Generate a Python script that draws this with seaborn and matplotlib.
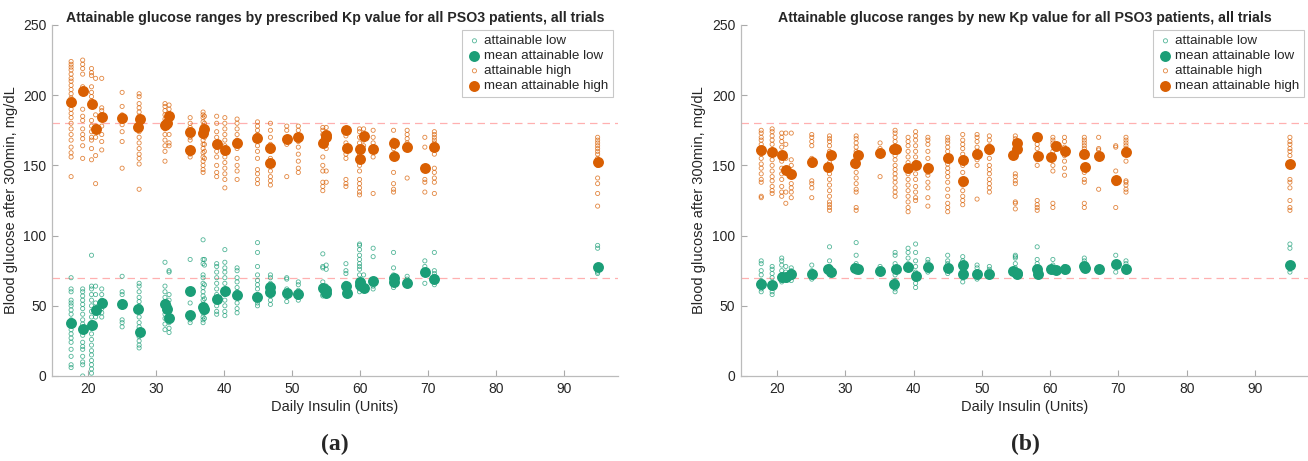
import numpy as np
import pandas as pd
import seaborn as sns
import matplotlib
matplotlib.use("Agg")
import matplotlib.pyplot as plt

GREEN = "#1b9e77"
ORANGE = "#d95f02"

# ---- panel (a): prescribed Kp ----
a_mean_x = [17.5, 19.2, 20.5, 21.1, 22.0, 25.0, 27.4, 27.6, 31.3, 31.6, 31.9,
            35.0, 35.0, 36.9, 37.1, 38.9, 40.1, 41.9, 44.9, 46.8, 46.8, 49.2,
            50.9, 54.5, 54.9, 55.0, 57.9, 58.0, 59.9, 59.9, 60.5, 61.9, 64.9,
            64.9, 66.9, 69.5, 70.9, 94.9]
a_mean_high = [194.8, 202.8, 193.4, 176.0, 184.3, 183.9, 177.5, 182.9, 179.1,
               180.5, 185.5, 174.1, 161.3, 173.4, 176.0, 165.1, 161.3, 165.6,
               169.4, 162.7, 151.6, 168.9, 170.3, 165.6, 170.3, 171.5, 175.1,
               162.7, 162.0, 154.7, 170.8, 161.8, 165.6, 157.0, 163.2, 147.8,
               163.2, 152.1]
a_mean_low = [38.0, 33.7, 36.3, 47.0, 52.2, 51.0, 47.7, 31.1, 51.0, 47.4, 41.0,
              60.7, 43.2, 49.3, 47.9, 54.6, 60.3, 57.4, 56.5, 63.6, 59.5, 58.8,
              58.4, 62.4, 59.3, 61.2, 64.0, 58.8, 67.1, 65.0, 62.4, 67.9, 70.0,
              67.1, 66.0, 73.8, 69.0, 77.3]

a_col_x = [17.5, 19.2, 20.5, 21.1, 22.0, 25.0, 27.5, 31.3, 31.9, 35.0, 36.9,
           37.1, 38.9, 40.1, 41.9, 44.9, 46.8, 49.2, 50.9, 54.5, 55.0, 57.9,
           59.9, 60.5, 61.9, 64.9, 66.9, 69.5, 70.9, 94.9]
a_high = [
    [224, 222, 220, 218, 215, 212, 210, 207, 204, 201, 198, 194, 190, 187, 184,
     180, 176, 172, 168, 163, 159, 156, 142],
    [225, 222, 219, 215, 206, 203, 190, 185, 182, 176, 172, 169, 164, 155],
    [219, 216, 214, 206, 202, 199, 196, 192, 182, 178, 174, 170, 168, 162, 154],
    [212, 186, 178, 170, 157, 137],
    [212, 191, 189, 183, 178, 172, 167, 161],
    [202, 192, 186, 179, 174, 167, 148],
    [201, 199, 194, 191, 188, 185, 182, 178, 174, 170, 166, 162, 158, 155,
     151, 133],
    [194, 192, 189, 186, 183, 180, 176, 172, 168, 164, 160, 153],
    [193, 190, 187, 182, 178, 172, 166, 164],
    [184, 180, 177, 170, 168, 158, 156],
    [188, 186, 184, 181, 178, 176, 174, 171, 168, 165, 162, 159, 156, 153,
     150, 147, 145],
    [185, 180, 175, 170, 165, 160, 155],
    [185, 180, 174, 170, 165, 160, 156, 150, 145, 142],
    [184, 180, 176, 172, 168, 164, 160, 156, 152, 148, 144, 140, 134],
    [183, 180, 176, 172, 168, 162, 155, 150, 146, 140],
    [181, 178, 175, 172, 168, 164, 160, 155, 147, 144, 140, 137],
    [180, 175, 170, 165, 160, 155, 150, 146, 142, 139, 136],
    [178, 175, 167, 165, 142],
    [178, 175, 171, 167, 163, 158, 153, 148, 145],
    [177, 175, 172, 168, 156, 150, 146, 138, 135, 132],
    [177, 173, 170, 166, 162, 146, 138],
    [175, 171, 166, 163, 158, 155, 140, 137, 135],
    [176, 174, 170, 166, 162, 158, 154, 150, 146, 140, 137, 134, 131, 129],
    [176, 172, 168, 164],
    [175, 170, 166, 156, 130],
    [175, 168, 162, 156, 145, 137, 133, 131],
    [175, 172, 169, 166, 141],
    [170, 163, 148, 140, 138, 131],
    [174, 172, 170, 168, 166, 162, 158, 148, 145, 141, 138, 130],
    [170, 168, 166, 164, 162, 160, 158, 155, 150, 141, 137, 130, 121],
]
a_low = [
    [70, 62, 60, 54, 52, 50, 47, 44, 40, 36, 33, 30, 27, 24, 19, 14, 8, 6],
    [62, 60, 57, 54, 51, 48, 44, 40, 37, 33, 29, 24, 21, 19, 14, 10, 8, 0],
    [86, 64, 62, 58, 54, 50, 46, 42, 38, 34, 30, 26, 22, 18, 15, 11, 8, 5, 2],
    [64, 58, 52, 46, 42],
    [62, 58, 54, 48, 45, 42],
    [71, 60, 58, 53, 49, 40, 38, 35],
    [66, 64, 60, 56, 53, 50, 46, 42, 38, 35, 32, 28, 25, 22, 20],
    [81, 64, 60, 56, 53, 50, 47, 44, 41, 37, 33],
    [75, 74, 58, 54, 50, 46, 42, 38, 34, 31],
    [83, 61, 59, 52, 44, 40, 38],
    [97, 83, 80, 72, 70, 66, 63, 60, 57, 54, 51, 48, 45, 42, 40, 38],
    [83, 79, 65, 55, 50, 45, 41],
    [80, 78, 74, 70, 66, 62, 58, 54, 50, 46, 44],
    [90, 81, 77, 74, 70, 66, 62, 58, 54, 50, 46, 43],
    [77, 75, 70, 67, 63, 60, 56, 52, 48, 45],
    [95, 88, 78, 72, 68, 65, 62, 58, 55, 52, 50],
    [72, 70, 66, 63, 60, 57, 54, 51],
    [70, 69, 62, 56, 53],
    [67, 65, 61, 58, 56, 54],
    [87, 78, 77, 67, 64, 62, 60, 58, 57],
    [79, 76, 64, 62, 60, 58],
    [80, 75, 73, 66, 62, 60, 58],
    [94, 93, 90, 86, 83, 80, 78, 76, 72, 68, 64, 62, 60],
    [72, 66, 63, 61],
    [91, 85, 68, 66, 64, 62],
    [88, 77, 72, 70, 67, 65, 63],
    [71, 69, 66],
    [82, 78, 66],
    [88, 75, 73, 71, 69, 67, 65],
    [93, 91, 76, 74, 73],
]

# ---- panel (b): new Kp ----
b_mean_x = [17.7, 19.3, 20.7, 21.3, 22.1, 25.1, 27.5, 27.9, 31.5, 31.8, 35.1,
            37.1, 37.5, 39.2, 40.3, 42.1, 45.0, 47.2, 47.2, 49.3, 51.1, 54.6,
            55.1, 55.2, 58.1, 58.2, 60.1, 60.8, 62.1, 65.0, 65.1, 67.1, 69.6,
            71.1, 95.1]
b_mean_high = [161.1, 159.7, 157.1, 146.5, 144.2, 152.2, 148.9, 157.1, 151.9,
               157.1, 158.8, 161.8, 161.8, 148.2, 150.1, 148.2, 155.2, 153.6,
               138.8, 158.3, 161.8, 157.1, 161.8, 165.8, 170.1, 156.4, 155.9,
               163.7, 160.4, 158.3, 148.9, 156.4, 139.9, 159.5, 151.2]
b_mean_low = [65.3, 64.8, 70.7, 70.7, 72.8, 72.3, 76.3, 74.0, 77.0, 76.3, 75.1,
              65.3, 75.9, 77.7, 71.1, 77.5, 76.8, 78.9, 72.8, 72.3, 72.3, 75.1,
              72.8, 73.5, 76.3, 72.8, 76.3, 75.4, 75.9, 78.2, 77.0, 75.9, 80.1,
              75.9, 78.7]

b_col_x = [17.7, 19.3, 20.7, 21.3, 22.1, 25.1, 27.7, 31.6, 35.1, 37.3, 39.2,
           40.3, 42.1, 45.0, 47.2, 49.3, 51.1, 54.9, 58.1, 60.4, 62.1, 65.0,
           67.1, 69.6, 71.1, 95.1]
b_high = [
    [175, 173, 170, 168, 165, 162, 158, 155, 151, 148, 144, 140, 138, 128, 127],
    [176, 174, 171, 168, 165, 161, 158, 154, 150, 146, 142, 139, 135, 132, 130],
    [173, 170, 167, 163, 158, 153, 148, 144, 140, 135, 131, 128],
    [173, 165, 155, 147, 131, 123],
    [173, 154, 150, 142, 137, 134, 131, 127],
    [172, 170, 167, 164, 155, 150, 139, 137, 134, 127],
    [171, 169, 167, 164, 160, 156, 152, 148, 144, 140, 136, 132, 128, 124,
     122, 120, 118],
    [171, 169, 166, 163, 160, 156, 153, 149, 145, 141, 137, 133, 131, 120, 118],
    [166, 162, 158, 142],
    [175, 173, 170, 167, 164, 160, 157, 154, 150, 147, 144, 141, 138, 134,
     131, 128],
    [170, 167, 164, 160, 156, 152, 148, 144, 140, 136, 132, 128, 124, 120, 117],
    [174, 171, 168, 164, 160, 156, 152, 148, 144, 140, 135, 131, 127, 125],
    [170, 168, 165, 160, 155, 150, 145, 143, 138, 134, 127, 121],
    [170, 168, 166, 163, 160, 157, 154, 151, 148, 145, 142, 138, 133, 128,
     123, 120, 117],
    [172, 168, 165, 162, 158, 155, 150, 145, 140, 136, 132, 128, 125, 122],
    [172, 170, 167, 163, 160, 154, 150, 126],
    [171, 168, 164, 159, 155, 150, 147, 144, 140, 137, 134, 131],
    [171, 169, 167, 165, 162, 160, 156, 144, 142, 139, 137, 124, 123, 119],
    [171, 168, 165, 162, 158, 154, 150, 125, 122, 120, 118],
    [170, 168, 166, 164, 160, 156, 150, 146, 123, 120],
    [170, 167, 163, 157, 153, 148, 143],
    [170, 168, 166, 164, 162, 160, 145, 140, 138, 123, 120],
    [170, 162, 161, 133],
    [164, 163, 146, 140, 137, 120],
    [170, 168, 166, 164, 162, 158, 153, 139, 138, 136, 133, 131],
    [170, 167, 165, 162, 160, 157, 150, 140, 138, 134, 125, 120, 118],
]
b_low = [
    [82, 80, 75, 72, 68, 64, 62, 60],
    [78, 76, 73, 70, 66, 63, 60, 58],
    [84, 82, 79, 75, 72, 70, 68, 67],
    [78, 74, 70, 68],
    [77, 75, 72, 70, 68],
    [79, 75, 72, 69],
    [92, 82, 78, 75, 73],
    [95, 86, 80, 78, 76, 74],
    [78, 76, 74],
    [88, 86, 80, 76, 72, 68, 65, 62, 60],
    [91, 88, 84, 80, 78, 76],
    [94, 88, 82, 78, 74, 70, 66, 63],
    [83, 81, 79, 76, 74],
    [86, 82, 80, 78, 75, 73],
    [85, 82, 79, 76, 73, 70, 67],
    [79, 77, 74, 71, 69],
    [78, 76, 73, 71],
    [86, 85, 84, 80, 77, 75, 73],
    [92, 83, 80, 76, 73],
    [83, 79, 76, 74],
    [78, 76, 74],
    [84, 82, 79, 76],
    [77, 75],
    [86, 78, 74],
    [82, 80, 78, 76],
    [94, 91, 76, 74],
]

x_ticks = [20, 30, 40, 50, 60, 70, 80, 90]
y_ticks = [0, 50, 100, 150, 200, 250]
titles = ["Attainable glucose ranges by prescribed Kp value for all PSO3 patients, all trials",
          "Attainable glucose ranges by new Kp value for all PSO3 patients, all trials"]
panel_labels = ["(a)", "(b)"]


def to_long(col_x, cols):
    """Flattens per-column value lists into a long DataFrame"""
    rows = [(x, v) for x, vals in zip(col_x, cols) for v in vals]
    return pd.DataFrame(rows, columns=["insulin", "glucose"])


def draw_panel(ax, col_x, low, high, mean_x, mean_low, mean_high, title):
    lo = to_long(col_x, low)
    hi = to_long(col_x, high)
    means = pd.DataFrame({"insulin": mean_x, "low": mean_low,
                          "high": mean_high})

    ax.axhline(180, color="#ffb0b0", ls=(0, (6, 4)), lw=0.9, zorder=0)
    ax.axhline(70, color="#ffb0b0", ls=(0, (6, 4)), lw=0.9, zorder=0)

    sns.scatterplot(data=lo, x="insulin", y="glucose", ax=ax, s=9,
                    facecolor="none", edgecolor=GREEN, linewidth=0.6,
                    alpha=0.75, label="attainable low")
    sns.scatterplot(data=means, x="insulin", y="low", ax=ax, s=62,
                    color=GREEN, edgecolor=GREEN, linewidth=0,
                    label="mean attainable low")
    sns.scatterplot(data=hi, x="insulin", y="glucose", ax=ax, s=9,
                    facecolor="none", edgecolor=ORANGE, linewidth=0.6,
                    alpha=0.75, label="attainable high")
    sns.scatterplot(data=means, x="insulin", y="high", ax=ax, s=62,
                    color=ORANGE, edgecolor=ORANGE, linewidth=0,
                    label="mean attainable high")

    ax.set_xlim(14.7, 97.9)
    ax.set_ylim(0, 250)
    ax.set_xticks(x_ticks)
    ax.set_yticks(y_ticks)
    ax.tick_params(direction="in", length=4, color="#aaaaaa",
                   labelsize=10, labelcolor="#262626", pad=4)
    for side in ["top", "right"]:
        ax.spines[side].set_visible(False)
    for side in ["left", "bottom"]:
        ax.spines[side].set_color("#bbbbbb")
        ax.spines[side].set_linewidth(0.9)
    ax.set_xlabel("Daily Insulin (Units)", fontsize=10.5, color="#262626",
                  labelpad=3)
    ax.set_ylabel("Blood glucose after 300min, mg/dL", fontsize=10.5,
                  color="#262626", labelpad=4)
    ax.set_title(title, fontsize=10.2, fontweight="bold", pad=2)
    leg = ax.legend(loc="upper right", bbox_to_anchor=(1.0, 1.0),
                    fontsize=9.6, frameon=True, fancybox=False,
                    edgecolor="#bbbbbb", handletextpad=0.15,
                    borderpad=0.35, labelspacing=0.2, handlelength=1.1,
                    borderaxespad=0.4)
    leg.get_frame().set_linewidth(0.8)


sns.set_style("ticks")
plt.rcParams["font.family"] = ["Liberation Sans", "DejaVu Sans"]

fig = plt.figure(figsize=(13.08, 4.61), dpi=100)
ax_a = fig.add_axes([0.0398, 0.1844, 0.4327, 0.7614])
ax_b = fig.add_axes([0.5663, 0.1844, 0.4345, 0.7614])

draw_panel(ax_a, a_col_x, a_low, a_high, a_mean_x, a_mean_low, a_mean_high,
           titles[0])
draw_panel(ax_b, b_col_x, b_low, b_high, b_mean_x, b_mean_low, b_mean_high,
           titles[1])

for label, xc in zip(panel_labels, [0.256, 0.784]):
    fig.text(xc, 0.035, label, ha="center", va="center", fontsize=17,
             fontweight="bold", family="Liberation Serif")

fig.savefig("out.png", dpi=100)
